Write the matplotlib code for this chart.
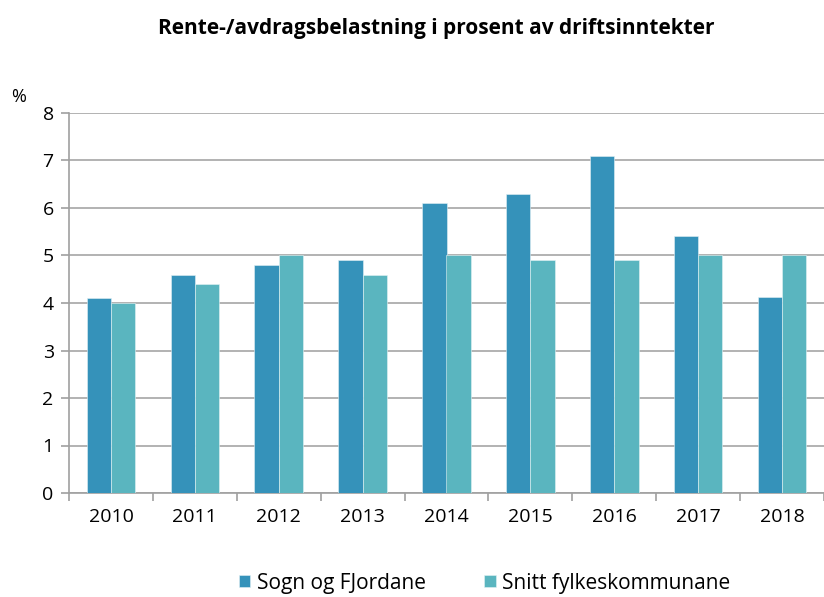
import matplotlib
matplotlib.use("Agg")
import matplotlib.pyplot as plt
import numpy as np

years = ["2010", "2011", "2012", "2013", "2014", "2015", "2016", "2017", "2018"]
sogn = [4.1, 4.6, 4.8, 4.9, 6.1, 6.3, 7.1, 5.4, 4.13]
snitt = [4.0, 4.4, 5.0, 4.6, 5.0, 4.9, 4.9, 5.0, 5.0]
series_names = ["Sogn og FJordane", "Snitt fylkeskommunane"]

plt.rcParams['font.family'] = ['Open Sans', 'DejaVu Sans']

fig = plt.figure(figsize=(8.24, 5.97), dpi=100)
ax = fig.add_axes([69/824, 104/597, 1 - 69/824, 380/597])

x = np.arange(len(years))
w = 0.29
c1 = "#3592BA"
c2 = "#5AB5BF"
ax.bar(x - w/2, sogn, w, color=c1, edgecolor="#e3f1f5", linewidth=0.4, label=series_names[0], zorder=3)
ax.bar(x + w/2, snitt, w, color=c2, edgecolor="#e3f3f4", linewidth=0.4, label=series_names[1], zorder=3)

ax.set_ylim(0, 8)
ax.set_xlim(-0.5, -0.5 + (824 - 69) / 84.4)
ax.set_yticks(range(0, 9))
ax.yaxis.grid(True, color="#A6A6A6", linewidth=1.2, zorder=0)
ax.set_axisbelow(True)
for s in ["top", "right"]:
    ax.spines[s].set_visible(False)
for s in ["left", "bottom"]:
    ax.spines[s].set_color("#A0A0A0")
    ax.spines[s].set_linewidth(1.2)

ax.set_xticks(x)
ax.set_xticklabels(years, fontsize=14)
ax.tick_params(axis="x", which="major", length=0, pad=11)
ax.set_xticks(np.arange(-0.5, len(years), 1.0), minor=True)
ax.tick_params(axis="x", which="minor", length=6, color="#A0A0A0", width=1.2)
ax.tick_params(axis="y", length=6, color="#A0A0A0", width=1.2, labelsize=14, pad=5)

fig.text(0.53, 0.952, "Rente-/avdragsbelastning i prosent av driftsinntekter",
         ha="center", va="center", fontsize=15, fontweight="bold")
fig.text(11/824, 1 - 97/597, "%", ha="left", va="center", fontsize=13)

fig.legend(loc="center", bbox_to_anchor=(0.588, 1 - 583/597), ncol=2, frameon=False,
           fontsize=15, handlelength=0.55, handleheight=0.55, handletextpad=0.3,
           columnspacing=2.8)

fig.savefig("out.png", dpi=100)
